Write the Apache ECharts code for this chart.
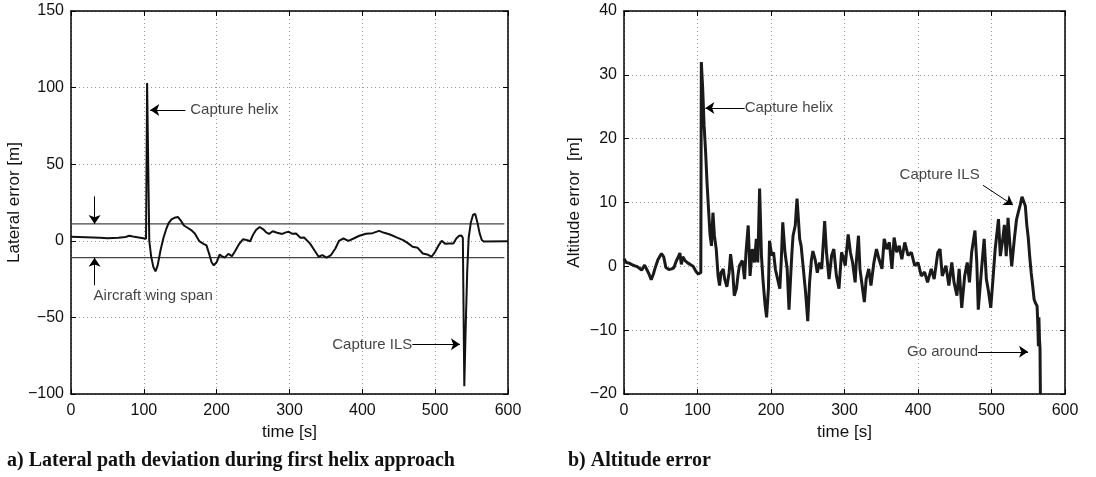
<!DOCTYPE html>
<html>
<head>
<meta charset="utf-8">
<script src="https://cdn.jsdelivr.net/npm/echarts@6/dist/echarts.min.js"></script>
<style>
html, body { margin: 0; padding: 0; background: #fff; }
#main { width: 1096px; height: 477px; }
</style>
</head>
<body>
<div id="main"></div>
<script>
// 左图：横向误差
var latT = [0, 20, 40, 50, 65, 75, 80, 85, 95, 103, 104.5, 106, 107.5, 110, 113, 116, 119, 123, 127, 131,
    134, 138, 142, 147, 151, 155, 160, 165, 170, 176, 182, 186, 190, 193, 196, 200, 204, 207, 211, 216,
    221, 225, 231, 236, 241, 246, 250, 254, 259, 264, 268, 272, 277, 283, 290, 295, 299, 304, 309, 315,
    320, 328, 334, 340, 345, 351, 357, 363, 368, 374, 381, 388, 396, 405, 414, 423, 430, 438, 447, 456,
    463, 469, 476, 483, 489, 495, 500, 505, 509, 514, 519, 525, 529, 533, 536, 538, 540, 542, 544, 546,
    549, 552, 555, 558, 561, 564, 567, 569, 600];
var latV = [2.6, 2.3, 2, 1.6, 2, 2.5, 3.3, 2.8, 2, 1.3, 103, 50, 0, -10, -17, -20, -16, -6, 2, 8,
    11.5, 14, 15, 15.5, 13, 10, 8.5, 7, 4.8, -0.2, -2, -3, -9, -14, -16, -14, -9, -10, -11, -8.5,
    -10, -7, -2, 1, 0.5, -0.3, 4, 7, 9, 7.5, 5.5, 4.5, 6.2, 5.3, 4.5, 5.5, 5.9, 4.6, 4.8, 2,
    2.2, -1.7, -6, -10.4, -9.3, -11, -9.3, -5, 0, 1.5, 0, 1.5, 3.3, 4.6, 5, 6.5, 5.2, 4.1, 2.2, 0.4,
    -1.7, -3.9, -4.6, -8.3, -8.9, -10.4, -7.2, -2.8, 0, -2, -1.7, -1.8, 1.5, 3.3, 3.5, 2, -95, -55, -20, 2,
    12, 17, 17.5, 12, 5, 0.5, -0.5, -0.3, -0.3];
var wingSpan = 11;

// 右图：高度误差
var altT = [0, 3, 7, 10, 14, 17, 21, 24, 28, 31, 34, 37, 40, 42, 46, 49, 51, 54, 57, 61,
    65, 68, 71, 74, 76, 78, 80, 83, 87, 90, 94, 98, 101, 103, 104.5, 105.2, 107, 109, 111, 113,
    115, 117, 119, 121, 123, 125.5, 128, 130, 132, 135, 137, 140, 143, 145, 148, 150, 153, 155, 157, 161,
    164, 166, 169, 171.5, 174.5, 177.5, 180, 182, 184.5, 187, 189, 192, 194, 196.5, 198, 201, 203.5, 206, 208, 212,
    214, 216, 219, 222, 224.5, 227, 228.5, 230, 233, 235.4, 237, 239, 241, 244, 247, 250, 252.5, 255, 257, 260,
    263, 266, 269, 273, 275.5, 279, 282.5, 285.5, 289, 292.5, 296, 299, 301, 305, 308, 311, 314.5, 316, 319, 321,
    324, 327, 329.5, 333, 336, 340, 343.5, 347, 351, 354, 357.5, 361, 364.5, 367.5, 371, 374.5, 378, 382, 386.5, 391,
    395.5, 400, 404.5, 409, 413, 418, 422, 427, 430, 433, 438, 442, 446, 449, 453, 456, 459.5, 463.5, 467, 470,
    473, 477.5, 480, 482, 486.5, 490, 493, 496, 499, 502, 505, 509.5, 512, 515, 517.5, 520, 522.5, 525, 527.5, 531,
    534, 536.5, 539, 541.5, 544, 546, 548, 550, 552, 554, 556, 558, 560, 562, 563, 563.8, 564.5, 565.3, 566, 566.5];
var altV = [1.2, 0.6, 0.5, 0.3, 0.1, 0, -0.3, -0.6, 0.2, -0.5, -1.2, -2.1, -1.2, -0.4, 1, 1.6, 2, 1.5, -0.2, -0.5,
    -0.4, -0.2, 0.8, 1.5, 2.1, 0.3, 1.5, 0.9, 0.5, 0.3, 0, -0.8, -1.2, -1.4, -1, 32, 28, 22, 18, 13,
    9, 5, 3.2, 8.4, 4.8, 2.7, -1.5, -3, -1, -0.4, -2, -3.2, -1, 1.9, -0.9, -4.6, -3.5, -1.5, 0.1, 0.9,
    -2, 2.2, 6.4, -1.5, 2.7, 0.6, 4.3, 0.6, 12.2, 1.7, -2, -6.1, -8, -3.5, 4, 1.7, 2.2, -0.5, -1.5, -3.5,
    1, 6.9, 2.2, -0.4, -6.8, -1, 2.2, 4.8, 6.4, 10.6, 7.9, 4.3, 3.2, -0.4, -4, -8.6, -2.5, 1, 2.4, 1.1,
    -1, 0.6, -0.4, 7.1, 2.2, -2, 1.7, 2.7, -1.5, -3.5, 2.2, 1.1, 0.1, 5, 2.2, 0.6, -2.5, 0.6, 4.8, -0.4,
    -3, -5.6, -2, -0.4, -3, 0.6, 2.7, 1.1, -0.4, 4.3, 2.7, 3.75, -0.4, 4.5, 2.2, 3.2, 1.1, 3.75, 1.7, 2.2,
    0.1, 0.6, -1.5, -0.9, -2.5, -0.4, -2, 2.2, 2.7, -1.5, 0.1, -3, 0.6, -2.5, -4.6, -0.4, -6.5, -1.5, 0.6, -2.5,
    2.2, 5.6, 0.6, -6.8, -0.4, 4.3, -2, -4, -6.5, -2, 2.7, 7.4, 1.6, 4, 6.5, 1.6, 7.6, 3.5, 0, 4.2,
    7.3, 8.5, 9.6, 10.9, 10.6, 9.5, 6.5, 4.5, 1.5, -1, -3, -5.2, -5.8, -6.2, -9, -12.5, -8, -11.5, -12.8, -20];

function pairs(t, v) {
    return t.map(function (x, i) { return [x, v[i]]; });
}

var myChart = echarts.init(document.getElementById('main'));
var FONT = 'Liberation Sans';
var minusFmt = function (v) { return String(v).replace('-', '\u2212'); };

function xAxisCfg(grid, bottom) {
    return {
        type: 'value', gridIndex: grid, min: 0, max: 600, interval: 100,
        position: bottom ? 'bottom' : 'top',
        name: bottom ? 'time [s]' : '', nameLocation: 'middle', nameGap: 26,
        nameTextStyle: { fontFamily: FONT, fontSize: 17, color: '#111' },
        axisLine: { show: true, onZero: false, lineStyle: { color: '#000', width: 1.5 } },
        axisTick: { show: true, inside: true, length: 5, lineStyle: { color: '#000' } },
        axisLabel: { show: bottom, fontFamily: FONT, fontSize: 16, color: '#111', margin: 9, formatter: minusFmt },
        splitLine: { show: bottom, lineStyle: { color: '#999', type: [1, 3], width: 1 } }
    };
}

function yAxisCfg(grid, left, min, max, interval, name, gap) {
    return {
        type: 'value', gridIndex: grid, min: min, max: max, interval: interval,
        position: left ? 'left' : 'right',
        name: left ? name : '', nameLocation: 'middle', nameGap: gap,
        nameTextStyle: { fontFamily: FONT, fontSize: 17, color: '#111' },
        axisLine: { show: true, onZero: false, lineStyle: { color: '#000', width: 1.5 } },
        axisTick: { show: true, inside: true, length: 5, lineStyle: { color: '#000' } },
        axisLabel: { show: left, fontFamily: FONT, fontSize: 16, color: '#111', margin: 7, formatter: minusFmt },
        splitLine: { show: left, lineStyle: { color: '#999', type: [1, 3], width: 1 } }
    };
}

var arrowStyle = {
    symbol: ['none', 'arrow'], symbolSize: 9, silent: true, animation: false,
    label: { show: false },
    lineStyle: { color: '#000', width: 1, type: 'solid' },
    itemStyle: { color: '#000' },
    emphasis: { disabled: true }
};

function textSeries(xi, yi, items) {
    return {
        type: 'scatter', xAxisIndex: xi, yAxisIndex: yi, symbolSize: 0, silent: true,
        label: { show: true, formatter: '{b}', fontFamily: FONT, fontSize: 15, color: '#111', distance: 0 },
        data: items
    };
}

var option = {
    animation: false,
    backgroundColor: '#fff',
    grid: [
        { left: 71, top: 11, width: 437, height: 383 },
        { left: 624, top: 11, width: 441, height: 383 }
    ],
    xAxis: [xAxisCfg(0, true), xAxisCfg(0, false), xAxisCfg(1, true), xAxisCfg(1, false)],
    yAxis: [
        yAxisCfg(0, true, -100, 150, 50, 'Lateral error [m]', 48),
        yAxisCfg(0, false, -100, 150, 50),
        yAxisCfg(1, true, -20, 40, 10, 'Altitude error  [m]', 41),
        yAxisCfg(1, false, -20, 40, 10)
    ],
    graphic: [
        { type: 'text', left: 7, top: 451, style: { text: 'a) Lateral path deviation during first helix approach', font: 'bold 20px "Liberation Serif"', fill: '#111' } },
        { type: 'text', left: 568, top: 451, style: { text: 'b) Altitude error', font: 'bold 20px "Liberation Serif"', fill: '#111' } }
    ],
    series: [
        {
            name: 'wing+', type: 'line', xAxisIndex: 0, yAxisIndex: 0, symbol: 'none', silent: true,
            lineStyle: { color: '#444', width: 1.3 },
            data: [[0, wingSpan], [595, wingSpan]],
            markLine: Object.assign({}, arrowStyle, {
                data: [
                    [{ coord: [32.4, 29] }, { coord: [32.4, wingSpan] }],
                    [{ coord: [32.4, -29] }, { coord: [32.4, -wingSpan] }],
                    [{ coord: [157, 85.4] }, { coord: [108.8, 85.4] }],
                    [{ coord: [468.6, -67.6] }, { coord: [534, -67.6] }]
                ]
            })
        },
        {
            name: 'wing-', type: 'line', xAxisIndex: 0, yAxisIndex: 0, symbol: 'none', silent: true,
            lineStyle: { color: '#444', width: 1.3 },
            data: [[0, -wingSpan], [595, -wingSpan]]
        },
        {
            name: 'lateral', type: 'line', xAxisIndex: 0, yAxisIndex: 0, symbol: 'none',
            lineStyle: { color: '#111', width: 2 },
            data: pairs(latT, latV)
        },
        textSeries(0, 0, [
            { name: 'Capture helix', value: [163.7, 85.4], label: { position: 'right' } },
            { name: 'Aircraft wing span', value: [31, -35.8], label: { position: 'right' } },
            { name: 'Capture ILS', value: [468.6, -67.6], label: { position: 'left' } }
        ]),
        {
            name: 'altitude', type: 'line', xAxisIndex: 2, yAxisIndex: 2, symbol: 'none',
            lineStyle: { color: '#1a1a1a', width: 3 },
            data: pairs(altT, altV),
            markLine: Object.assign({}, arrowStyle, {
                data: [
                    [{ coord: [164.2, 24.8] }, { coord: [110.7, 24.8] }],
                    [{ coord: [488.4, 12.7] }, { coord: [529.3, 9.6] }],
                    [{ coord: [481.6, -13.4] }, { coord: [549.7, -13.4] }]
                ]
            })
        },
        textSeries(2, 2, [
            { name: 'Capture helix', value: [164.2, 24.8], label: { position: 'right' } },
            { name: 'Capture ILS', value: [429.4, 14.3], label: { position: 'inside' } },
            { name: 'Go around', value: [481.6, -13.4], label: { position: 'left' } }
        ])
    ]
};

myChart.setOption(option);
</script>
</body>
</html>
